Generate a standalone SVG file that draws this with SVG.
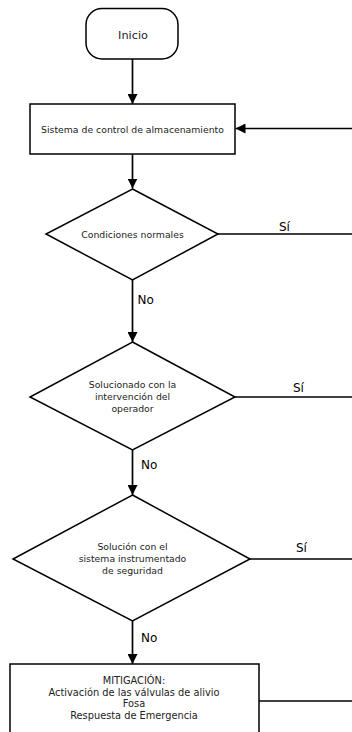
<svg xmlns="http://www.w3.org/2000/svg" width="352" height="732" viewBox="0 0 352 732">
<style>
.shape{fill:#fff;stroke:#000;stroke-width:1.5}
.line{fill:none;stroke:#000;stroke-width:1.7}
.t{font-family:"DejaVu Sans",Verdana,sans-serif;font-size:9.3px;fill:#222;text-anchor:middle}
.lbl{font-family:"DejaVu Sans",Verdana,sans-serif;font-size:12px;fill:#000}
</style>
<defs>
<marker id="ah" markerWidth="10" markerHeight="10" viewBox="0 0 10 10" refX="10" refY="5" orient="auto" markerUnits="userSpaceOnUse">
<path d="M0,0 L10,5 L0,10 Z" fill="#000"/>
</marker>
</defs>
<rect width="352" height="732" fill="#fff"/>
<g id="connectors">
<path class="line" d="M132.5,59 V104" marker-end="url(#ah)"/>
<path class="line" d="M352,128.5 H235.5" marker-end="url(#ah)"/>
<path class="line" d="M132.5,154 V188.5" marker-end="url(#ah)"/>
<path class="line" d="M218,234 H352"/>
<path class="line" d="M132.5,280 V342" marker-end="url(#ah)"/>
<path class="line" d="M235,397 H352"/>
<path class="line" d="M132.5,450 V495" marker-end="url(#ah)"/>
<path class="line" d="M250,559 H352"/>
<path class="line" d="M132.5,621 V664" marker-end="url(#ah)"/>
<path class="line" d="M259,701 H352"/>
<text class="lbl" x="279" y="231">Sí</text>
<text class="lbl" x="293" y="392">Sí</text>
<text class="lbl" x="296" y="552">Sí</text>
<text class="lbl" x="137.5" y="304">No</text>
<text class="lbl" x="141" y="469">No</text>
<text class="lbl" x="141" y="642">No</text>
</g>
<g id="inicio">
<rect class="shape" x="86" y="8.5" width="92" height="50.5" rx="16" ry="16"/>
<text class="t" x="133" y="39" style="font-size:11.3px">Inicio</text>
</g>
<g id="sistema">
<rect class="shape" x="30" y="104" width="205" height="50"/>
<text class="t" x="132.5" y="132.5">Sistema de control de almacenamiento</text>
</g>
<g id="condiciones">
<polygon class="shape" points="132.5,189 218,234 132.5,280 46,234"/>
<text class="t" x="132.5" y="238">Condiciones normales</text>
</g>
<g id="operador">
<polygon class="shape" points="132.5,342 235,397 132.5,450 30,397"/>
<text class="t" x="132.5" y="388">Solucionado con la</text>
<text class="t" x="132.5" y="400">intervención del</text>
<text class="t" x="132.5" y="412">operador</text>
</g>
<g id="sis">
<polygon class="shape" points="132.5,495 250,559 132.5,621 13,559"/>
<text class="t" x="132.5" y="550">Solución con el</text>
<text class="t" x="132.5" y="562">sistema instrumentado</text>
<text class="t" x="132.5" y="574">de seguridad</text>
</g>
<g id="mitigacion">
<rect class="shape" x="10" y="664" width="249" height="80"/>
<text class="t" x="134" y="684" style="font-size:9.8px">MITIGACIÓN:</text>
<text class="t" x="134" y="695.5" style="font-size:9.8px">Activación de las válvulas de alivio</text>
<text class="t" x="134" y="707" style="font-size:9.8px">Fosa</text>
<text class="t" x="134" y="718.5" style="font-size:9.8px">Respuesta de Emergencia</text>
</g>
</svg>
